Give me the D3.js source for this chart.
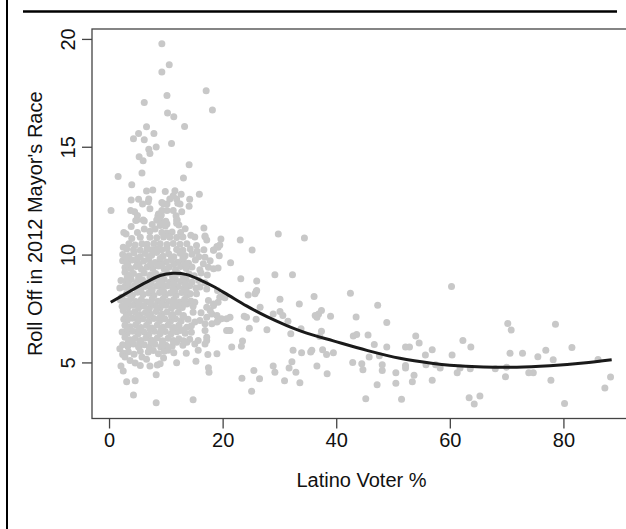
<!DOCTYPE html>
<html>
<head>
<meta charset="utf-8">
<script src="https://cdn.jsdelivr.net/npm/d3@7"></script>
<style>
  body { margin: 0; background: #fff; }
  svg { display: block; font-family: "Liberation Sans", Arial, sans-serif; }
</style>
</head>
<body>
<div id="chart"></div>
<script>
// points, [latino %, roll off]
var sparseTop = [[9.3,19.78],[10.6,18.8],[9.3,18.47],[17.1,17.6],[10.2,17.38],[6.2,17.05],[18.2,16.7],[10.3,16.56],[11.4,16.39],[13.3,15.94],[6.6,15.93],[5.2,15.62],[7.9,15.62],[4.3,15.37],[6.2,15.32],[11.0,15.15],[8.3,14.99],[7.0,14.88],[7.2,14.69],[5.3,14.54],[6.0,14.35],[14.1,14.17],[5.8,13.78],[1.6,13.62],[13.1,13.55],[4.0,13.24],[6.6,12.95],[7.7,13.0],[9.9,12.92],[11.6,12.96],[12.7,12.8],[15.9,12.8],[3.9,12.53],[5.2,12.57],[6.9,12.45],[9.3,12.42],[11.3,12.73],[12.1,12.38],[10.2,12.35],[14.2,12.57],[14.1,12.24],[0.35,12.05],[3.8,12.04],[4.5,11.99],[7.2,12.12],[8.7,11.88],[11.3,12.04],[12.8,11.99],[5.9,12.35],[9.6,12.35],[7.0,12.58],[10.7,12.58],[11.9,12.58],[12.5,12.35],[9.3,12.04],[10.2,12.04]];

var upperCluster = [[5.0,11.81],[8.6,11.79],[9.2,11.83],[11.8,11.8],[4.7,11.58],[6.2,11.56],[8.5,11.6],[10.0,11.55],[12.0,11.6],[4.9,11.6],[6.0,11.6],[8.4,11.6],[11.9,11.6],[9.0,11.35],[9.9,11.33],[12.3,11.37],[16.7,11.23],[10.2,11.42],[11.9,11.45],[9.5,11.5],[9.0,11.73],[2.6,11.03],[3.0,10.95],[5.0,11.03],[6.2,11.19],[7.2,11.08],[8.1,11.19],[9.3,11.03],[10.2,11.0],[11.1,11.05],[12.6,11.02],[15.1,10.81],[16.9,10.86],[16.9,10.83],[17.2,10.68],[7.2,10.8],[8.4,10.78],[9.6,10.82],[10.7,10.8],[11.9,10.79],[13.0,10.81],[19.7,10.72],[4.0,10.75],[5.5,10.8],[2.5,10.34],[5.8,10.5],[6.7,10.48],[7.9,10.52],[9.0,10.5],[10.2,10.47],[11.3,10.52],[12.5,10.48],[13.7,10.5],[15.4,10.42],[19.0,10.37],[3.5,10.5],[4.6,10.45],[3.1,10.26],[4.3,10.24],[6.7,10.27],[8.4,10.25],[10.2,10.28],[11.9,10.24],[14.3,10.26],[16.7,10.22],[18.4,10.21],[19.2,10.34],[19.5,10.45],[5.5,10.2],[7.5,10.22],[9.3,10.23],[13.0,10.2],[15.5,10.15],[3.9,11.3],[7.6,11.4],[13.4,11.2],[14.4,10.9]];

var denseCore = [[2.4,10.0],[3.5,9.95],[4.4,10.08],[5.5,9.9],[6.4,10.05],[7.5,9.97],[8.4,10.1],[9.5,9.92],[10.5,10.04],[11.4,9.9],[12.5,10.06],[13.4,9.95],[14.6,10.02],[15.8,9.9],[16.9,9.88],[18.4,10.2],
[2.4,9.72],[3.1,9.65],[4.1,9.75],[5.0,9.62],[6.1,9.7],[7.0,9.78],[8.1,9.63],[9.0,9.74],[10.1,9.66],[11.0,9.76],[12.1,9.64],[13.1,9.72],[14.0,9.6],[15.2,9.75],[17.8,9.72],[16.6,9.57],[19.4,9.95],
[2.8,9.4],[3.8,9.35],[4.8,9.45],[5.7,9.32],[6.7,9.42],[7.7,9.36],[8.7,9.47],[9.7,9.33],[10.6,9.43],[11.7,9.3],[12.6,9.45],[13.6,9.35],[14.6,9.42],[16.0,9.3],[17.5,9.41],[18.4,9.34],[19.2,9.38],
[2.8,9.18],[3.4,9.05],[4.3,9.12],[5.3,9.0],[6.2,9.15],[7.3,9.05],[8.2,9.12],[9.2,9.02],[10.2,9.15],[11.2,9.06],[12.1,9.13],[13.1,9.0],[14.1,9.1],[15.0,9.02],[16.2,9.15],[17.3,9.05],
[2.1,8.8],[3.0,8.75],[3.9,8.85],[4.9,8.72],[5.9,8.82],[6.8,8.7],[7.8,8.86],[8.8,8.74],[9.7,8.84],[10.7,8.72],[11.7,8.85],[12.6,8.75],[13.6,8.83],[14.6,8.72],[15.8,8.8],[16.9,8.7],
[1.9,8.45],[2.7,8.5],[3.6,8.42],[4.5,8.55],[5.5,8.45],[6.4,8.52],[7.4,8.4],[8.4,8.54],[9.3,8.44],[10.3,8.55],[11.3,8.42],[12.2,8.52],[13.2,8.43],[14.2,8.55],[15.3,8.45],[16.0,8.5],[17.2,8.41],
[2.2,8.02],[3.1,8.2],[4.1,8.12],[5.0,8.25],[6.0,8.15],[7.0,8.22],[7.9,8.1],[8.9,8.24],[9.9,8.12],[10.8,8.22],[11.8,8.1],[12.8,8.24],[13.7,8.12],[14.3,8.18],[15.4,8.18],[19.1,8.33],
[2.0,7.9],[2.9,7.85],[3.8,7.95],[4.7,7.82],[5.7,7.92],[6.6,7.8],[7.6,7.95],[8.6,7.84],[9.5,7.94],[10.5,7.82],[11.4,7.92],[12.4,7.8],[13.3,7.93],[14.4,7.85],[15.1,7.79],[17.5,7.87],[19.2,7.79],[19.5,8.02],[19.8,8.06],[20.4,8.0],
[2.3,7.6],[3.3,7.55],[4.2,7.65],[5.2,7.52],[6.1,7.62],[7.1,7.5],[8.1,7.64],[9.0,7.54],[10.0,7.65],[11.0,7.52],[11.9,7.62],[12.9,7.55],[13.7,7.71],[14.8,7.6],[17.2,7.56],[18.4,7.64],[18.4,7.71],
[2.5,7.41],[3.5,7.28],[4.5,7.35],[5.4,7.22],[6.4,7.32],[7.3,7.25],[8.3,7.36],[9.3,7.24],[10.2,7.34],[11.2,7.22],[12.2,7.33],[13.1,7.18],[14.8,7.33],[16.2,7.3],[17.8,7.41],[18.1,7.25],[17.2,7.1],[19.0,7.18],
[2.6,7.0],[3.2,6.95],[4.1,7.05],[5.1,6.92],[6.0,7.02],[7.0,6.9],[7.9,7.04],[8.9,6.93],[9.8,7.03],[10.8,6.9],[11.7,7.02],[12.7,6.92],[13.9,7.0],[15.1,6.87],[16.0,6.94],[19.2,6.94],[19.8,7.02],[20.7,7.02],[21.3,7.1],[19.0,6.87],
[2.8,6.72],[3.7,6.65],[4.7,6.75],[5.6,6.62],[6.6,6.72],[7.5,6.6],[8.5,6.74],[9.5,6.63],[10.4,6.73],[11.4,6.62],[12.3,6.72],[13.7,6.63],[14.5,6.7],[16.9,6.79],[18.1,6.79],
[2.3,6.41],[3.2,6.35],[4.2,6.45],[5.1,6.32],[6.1,6.42],[7.0,6.3],[8.0,6.44],[9.0,6.33],[9.9,6.43],[10.9,6.32],[11.9,6.42],[12.5,6.48],[13.4,6.35],[14.5,6.4],[16.9,6.48],[20.7,6.48],[21.3,6.48],
[2.8,6.17],[3.7,6.05],[4.6,6.12],[5.6,6.02],[6.5,6.14],[7.5,6.03],[8.5,6.13],[9.4,6.0],[10.4,6.12],[11.3,6.02],[12.3,6.1],[13.1,6.0],[14.2,6.08],[15.7,6.02],[17.2,6.02],[17.2,6.17],
[2.4,5.82],[3.3,5.75],[4.3,5.85],[5.2,5.72],[6.2,5.82],[7.1,5.7],[8.1,5.84],[9.1,5.72],[10.0,5.8],[11.1,5.75],[11.9,5.94],[13.0,5.8],[13.7,5.94],[15.1,5.86],[16.9,5.86],
[1.9,5.63],[2.5,5.42],[3.4,5.5],[4.4,5.38],[5.5,5.52],[6.9,5.48],[7.8,5.55],[8.7,5.4],[9.7,5.52],[10.4,5.56],[11.4,5.45],[13.6,5.43],[15.7,5.56]];

// points sitting between the rows above, inside the solid part of the cloud
var coreFill = [[3.0,9.85],[5.0,9.83],[7.0,9.87],[9.0,9.82],[11.0,9.85],[13.0,9.83],
[3.3,9.55],[5.3,9.52],[7.3,9.56],[9.3,9.5],[11.4,9.55],[13.5,9.52],
[3.2,8.95],[5.2,8.92],[7.2,8.96],[9.2,8.9],[11.2,8.95],[13.2,8.92],
[3.4,8.65],[5.4,8.62],[7.4,8.66],[9.4,8.6],[11.4,8.65],[13.4,8.62],
[3.6,8.35],[5.6,8.32],[7.6,8.36],[9.6,8.3],[11.6,8.35],[13.6,8.32],
[3.3,7.75],[5.3,7.72],[7.3,7.76],[9.3,7.7],[11.3,7.75],[13.3,7.72],
[3.0,7.15],[5.0,7.12],[7.0,7.16],[9.0,7.1],[11.0,7.15],[13.0,7.12],
[3.2,6.55],[5.2,6.52],[7.2,6.56],[9.2,6.5],[11.2,6.55],[13.2,6.52],
[3.4,5.95],[5.4,5.92],[7.4,5.96],[9.4,5.9],[11.4,5.95]];

var lowLeft = [[2.4,5.37],[2.8,5.25],[3.7,5.09],[4.6,4.97],[5.5,4.86],[2.1,4.83],[2.5,4.6],[7.2,4.83],[8.5,4.88],[9.0,4.94],[11.9,4.99],[15.3,5.05],[5.8,5.25],[6.6,5.15],[9.6,5.2],[3.1,4.1],[4.6,4.15],[4.3,3.49],[8.3,3.13],[14.8,3.27],[8.3,4.43],[17.5,4.75],[17.6,4.55],[17.4,5.37],[19.0,5.4]];

var midRange = [[21.4,9.62],[23.1,10.68],[29.8,10.96],[34.4,10.77],[25.2,10.21],[23.2,8.88],[26.0,8.77],[29.2,9.07],[32.3,9.06],[24.5,8.13],[25.9,8.29],[26.0,8.33],[25.7,8.18],[30.1,7.93],[33.5,7.71],[36.1,8.06],[26.6,7.56],[24.2,7.1],[23.8,7.14],[25.9,7.0],[28.9,7.25],[30.1,7.36],[30.6,7.18],[31.5,6.91],[36.3,7.18],[36.9,7.25],[37.4,7.41],[36.6,7.1],[39.0,7.14],[21.2,6.48],[24.7,6.59],[27.8,6.51],[32.0,6.33],[33.8,6.56],[37.4,6.44],[37.1,6.2],[23.5,5.99],[23.3,5.75],[21.6,5.71],[32.4,5.56],[33.9,5.45],[35.5,5.48],[35.7,5.56],[37.6,5.59],[38.3,5.37],[39.5,5.45],[36.6,4.83],[28.9,4.83],[29.2,4.55],[32.2,5.03],[31.7,4.74],[32.9,4.55],[25.5,4.63],[23.4,4.27],[26.5,4.24],[30.9,4.15],[33.6,4.06],[38.4,4.48],[25.1,3.66]];

var farRight = [[60.3,8.52],[42.5,8.21],[47.3,7.65],[43.5,7.11],[48.9,6.85],[70.2,6.81],[78.6,6.77],[70.8,6.5],[43.0,6.23],[43.6,6.3],[45.6,6.27],[46.7,5.83],[54.0,6.23],[54.6,5.9],[62.3,6.02],[63.7,5.71],[48.9,5.71],[52.2,5.71],[52.9,5.71],[56.9,5.59],[55.7,5.35],[60.4,5.35],[70.6,5.43],[72.8,5.43],[75.5,5.26],[76.9,5.56],[81.5,5.69],[78.2,5.12],[86.1,5.14],[45.8,5.25],[47.6,5.31],[42.9,5.0],[44.5,4.94],[44.7,4.66],[48.1,4.89],[48.1,4.63],[50.5,4.52],[52.2,4.86],[52.2,4.74],[53.7,4.4],[53.4,4.1],[50.5,4.03],[47.2,3.97],[55.8,4.89],[57.5,4.89],[58.3,4.74],[56.9,4.17],[61.3,4.52],[61.8,4.74],[63.6,4.71],[68.0,4.71],[70.0,4.78],[69.8,4.34],[73.9,4.52],[74.7,4.52],[77.8,4.17],[87.3,3.81],[88.3,4.32],[45.2,3.31],[51.5,3.29],[63.4,3.36],[64.3,3.07],[65.3,3.44],[80.2,3.09]];

// fitted curve
var curveX = [0.3, 3.7, 6.6, 9.0, 11.3, 13.7, 16.0, 18.4, 21.0, 24.2, 27.8, 31.3, 34.8, 39.5, 45.4, 51.2, 57.1, 60.0, 65.9, 71.8, 77.6, 83.5, 88.5];
var curveY = [7.79, 8.30, 8.72, 9.03, 9.13, 9.07, 8.83, 8.52, 8.12, 7.62, 7.12, 6.71, 6.36, 6.00, 5.56, 5.19, 4.95, 4.87, 4.79, 4.78, 4.85, 4.97, 5.12];

var xTicks = [0, 20, 40, 60, 80];
var yTicks = [5, 10, 15, 20];

var W = 626, H = 529;
var box = { left: 92, right: 631, top: 29, bottom: 418.5 };

var svg = d3.select("#chart").append("svg")
    .attr("width", W)
    .attr("height", H);

var x = d3.scaleLinear().domain([-3.0, 91.9]).range([box.left, box.right]);
var y = d3.scaleLinear().domain([2.40, 20.46]).range([box.bottom, box.top]);

// outer page lines
svg.append("line")
    .attr("x1", 7).attr("x2", 7).attr("y1", 0).attr("y2", H)
    .attr("stroke", "#000").attr("stroke-width", 2);
svg.append("line")
    .attr("x1", 23).attr("x2", 617).attr("y1", 11.5).attr("y2", 11.5)
    .attr("stroke", "#000").attr("stroke-width", 2.5);

var allPts = sparseTop.concat(upperCluster, denseCore, coreFill, lowLeft, midRange, farRight);

svg.append("g").selectAll("circle")
    .data(allPts)
    .enter().append("circle")
    .attr("cx", function(d) { return x(d[0]); })
    .attr("cy", function(d) { return y(d[1]); })
    .attr("r", 3.5)
    .attr("fill", "#c8c8c8");

var line = d3.line()
    .x(function(d, i) { return x(curveX[i]); })
    .y(function(d, i) { return y(curveY[i]); })
    .curve(d3.curveCatmullRom.alpha(0.5));

svg.append("path")
    .datum(curveX)
    .attr("d", line)
    .attr("fill", "none")
    .attr("stroke", "#1a1a1a")
    .attr("stroke-width", 3);

// frame
svg.append("rect")
    .attr("x", box.left).attr("y", box.top)
    .attr("width", box.right - box.left).attr("height", box.bottom - box.top)
    .attr("fill", "none").attr("stroke", "#444").attr("stroke-width", 1.3);

var xAxis = d3.axisBottom(x).tickValues(xTicks).tickSize(10).tickPadding(4);
var gx = svg.append("g")
    .attr("transform", "translate(0," + box.bottom + ")")
    .call(xAxis);
gx.select(".domain").remove();
gx.selectAll("line").attr("stroke", "#444").attr("stroke-width", 1.3);
gx.selectAll("text").attr("font-size", 20).attr("fill", "#111")
    .attr("font-family", "Liberation Sans, Arial, sans-serif");

var yAxis = d3.axisLeft(y).tickValues(yTicks).tickSize(10).tickFormat(d3.format("d"));
var gy = svg.append("g")
    .attr("transform", "translate(" + box.left + ",0)")
    .call(yAxis);
gy.select(".domain").remove();
gy.selectAll("line").attr("stroke", "#444").attr("stroke-width", 1.3);
gy.selectAll("text")
    .attr("font-size", 20).attr("fill", "#111")
    .attr("font-family", "Liberation Sans, Arial, sans-serif")
    .attr("x", null).attr("dy", null)
    .attr("text-anchor", "middle")
    .attr("transform", "translate(-17,0)rotate(-90)");

svg.append("text")
    .attr("x", (box.left + box.right) / 2)
    .attr("y", 487)
    .attr("text-anchor", "middle")
    .attr("font-size", 20)
    .attr("fill", "#111")
    .text("Latino Voter %");

svg.append("text")
    .attr("transform", "translate(42," + ((box.top + box.bottom) / 2) + ")rotate(-90)")
    .attr("text-anchor", "middle")
    .attr("font-size", 20)
    .attr("fill", "#111")
    .text("Roll Off in 2012 Mayor's Race");
</script>
</body>
</html>
